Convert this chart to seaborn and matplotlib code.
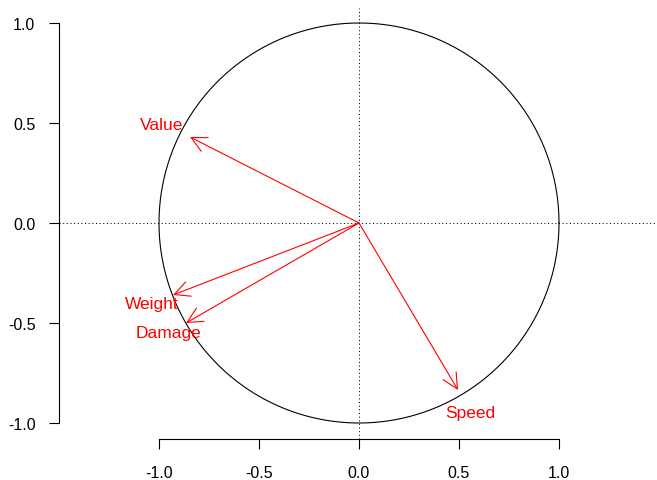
import numpy as np
import pandas as pd
import matplotlib
matplotlib.use("Agg")
import matplotlib.pyplot as plt
import seaborn as sns

variables = ["Value", "Weight", "Damage", "Speed"]
arrow_x = [-0.845, -0.93, -0.865, 0.495]
arrow_y = [0.43, -0.36, -0.50, -0.835]
label_x = [-0.985, -1.035, -0.955, 0.555]
label_y = [0.49, -0.405, -0.55, -0.95]
ticks = [-1.0, -0.5, 0.0, 0.5, 1.0]
tick_labels = ["-1.0", "-0.5", "0.0", "0.5", "1.0"]

sns.set_theme(style="white")
plt.rcParams['font.family'] = ['Liberation Sans', 'DejaVu Sans']

fig = plt.figure(figsize=(6.57, 4.81), dpi=100)
ax = fig.add_axes([59/657, 41/481, 597/657, 431/481])
ax.set_xlim(-1.5, 1.485)
ax.set_ylim(-1.08, 1.075)

# unit circle
theta = np.linspace(0, 2*np.pi, 400)
circ = pd.DataFrame({"x": np.cos(theta), "y": np.sin(theta)})
sns.lineplot(data=circ, x="x", y="y", sort=False, estimator=None, color="black", lw=0.8, ax=ax)

# reference lines
ax.axhline(0, color="black", lw=0.75, linestyle=(0, (1, 2.5)))
ax.axvline(0, color="black", lw=0.75, linestyle=(0, (1, 2.5)))

df = pd.DataFrame({"var": variables, "x": arrow_x, "y": arrow_y, "lx": label_x, "ly": label_y})
for _, r in df.iterrows():
    ax.annotate("", xy=(r.x, r.y), xytext=(0, 0),
                arrowprops=dict(arrowstyle="->,head_length=1.1,head_width=0.55",
                                color="red", lw=0.8, shrinkA=0, shrinkB=0,
                                mutation_scale=10))
    ax.text(r.lx, r.ly, r["var"], color="red", fontsize=12.5, ha="center", va="center")

ax.set_xticks(ticks)
ax.set_xticklabels(tick_labels)
ax.set_yticks(ticks)
ax.set_yticklabels(tick_labels)
for s in ["top", "right"]:
    ax.spines[s].set_visible(False)
for s in ["left", "bottom"]:
    ax.spines[s].set_visible(True)
    ax.spines[s].set_color("black")
    ax.spines[s].set_linewidth(0.8)
    ax.spines[s].set_bounds(-1, 1)
ax.tick_params(axis="both", direction="out", length=7, width=0.8, color="black",
               labelsize=11.5, labelcolor="black", bottom=True, left=True)
ax.tick_params(axis="x", pad=12)
ax.tick_params(axis="y", pad=10)
ax.set_xlabel("")
ax.set_ylabel("")
ax.grid(False)
fig.savefig("out.png", dpi=100)
